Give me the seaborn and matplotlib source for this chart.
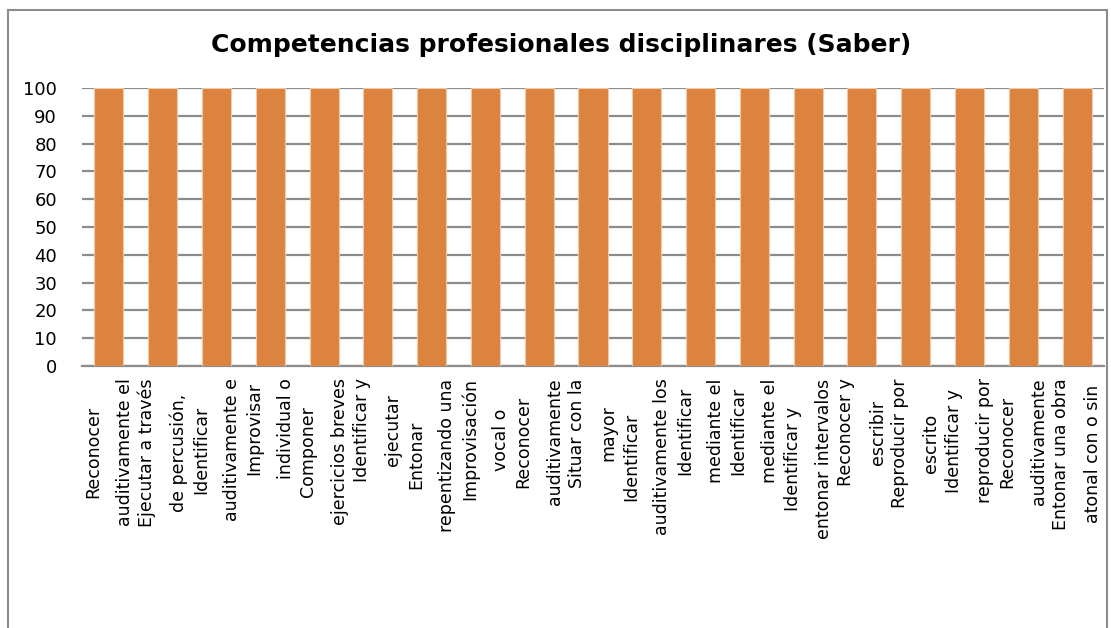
import pandas as pd
import seaborn as sns
import matplotlib.pyplot as plt
from matplotlib.patches import Rectangle

etiquetas = [
    "Reconocer\nauditivamente el",
    "Ejecutar a través\nde percusión,",
    "Identificar\nauditivamente e",
    "Improvisar\nindividual o",
    "Componer\nejercicios breves",
    "Identificar y\nejecutar",
    "Entonar\nrepentizando una",
    "Improvisación\nvocal o",
    "Reconocer\nauditivamente",
    "Situar con la\nmayor",
    "Identificar\nauditivamente los",
    "Identificar\nmediante el",
    "Identificar\nmediante el",
    "Identificar y\nentonar intervalos",
    "Reconocer y\nescribir",
    "Reproducir por\nescrito",
    "Identificar y\nreproducir por",
    "Reconocer\nauditivamente",
    "Entonar una obra\natonal con o sin",
]
valores = [100, 100, 100, 100, 100, 100, 100, 100, 100, 100,
           100, 100, 100, 100, 100, 100, 100, 100, 100]
ticks_y = [0, 10, 20, 30, 40, 50, 60, 70, 80, 90, 100]

df = pd.DataFrame({"n": list(range(len(valores))), "valor": valores})

sns.set_style("white")
plt.rcParams['font.family'] = ['DejaVu Sans']

fig = plt.figure(figsize=(11.11, 6.28), dpi=100)
ax = fig.add_axes([0.0738, 0.4172, 0.9199, 0.4427])

sns.barplot(data=df, x="n", y="valor", color="#DC843F", saturation=1,
            width=0.54, edgecolor="#F2C9A5", linewidth=0.8, ax=ax)
for p in ax.patches:
    p.set_zorder(3)

ax.set_ylim(0, 100)
ax.set_yticks(ticks_y)
ax.set_yticklabels([str(t) for t in ticks_y], fontsize=13, color="black")
ax.yaxis.grid(True, color="#8C8C8C", linewidth=1.6, zorder=0)
ax.set_axisbelow(True)
ax.set_xlim(-0.5, len(valores) - 0.5)
ax.set_xticks(range(len(valores)))
ax.set_xticklabels(etiquetas, rotation=90, fontsize=12.5, color="black",
                   multialignment="center", linespacing=1.95)
ax.tick_params(axis="both", length=0)
ax.tick_params(axis="x", pad=9)
ax.tick_params(axis="y", pad=18)
ax.set_xlabel("")
ax.set_ylabel("")
for s in ["top", "right", "left"]:
    ax.spines[s].set_visible(False)
ax.spines["bottom"].set_color("#8C8C8C")
ax.spines["bottom"].set_linewidth(1.6)

fig.text(0.505, 1 - 45 / 628, "Competencias profesionales disciplinares (Saber)",
         ha="center", va="center", fontsize=18, fontweight="bold", color="black")

borde = Rectangle((8 / 1111, -0.05), 1099 / 1111, 1.05 - 10 / 628,
                  transform=fig.transFigure, fill=False,
                  edgecolor="#8C8C8C", linewidth=1.5)
fig.patches.append(borde)

fig.savefig("out.png", dpi=100)
